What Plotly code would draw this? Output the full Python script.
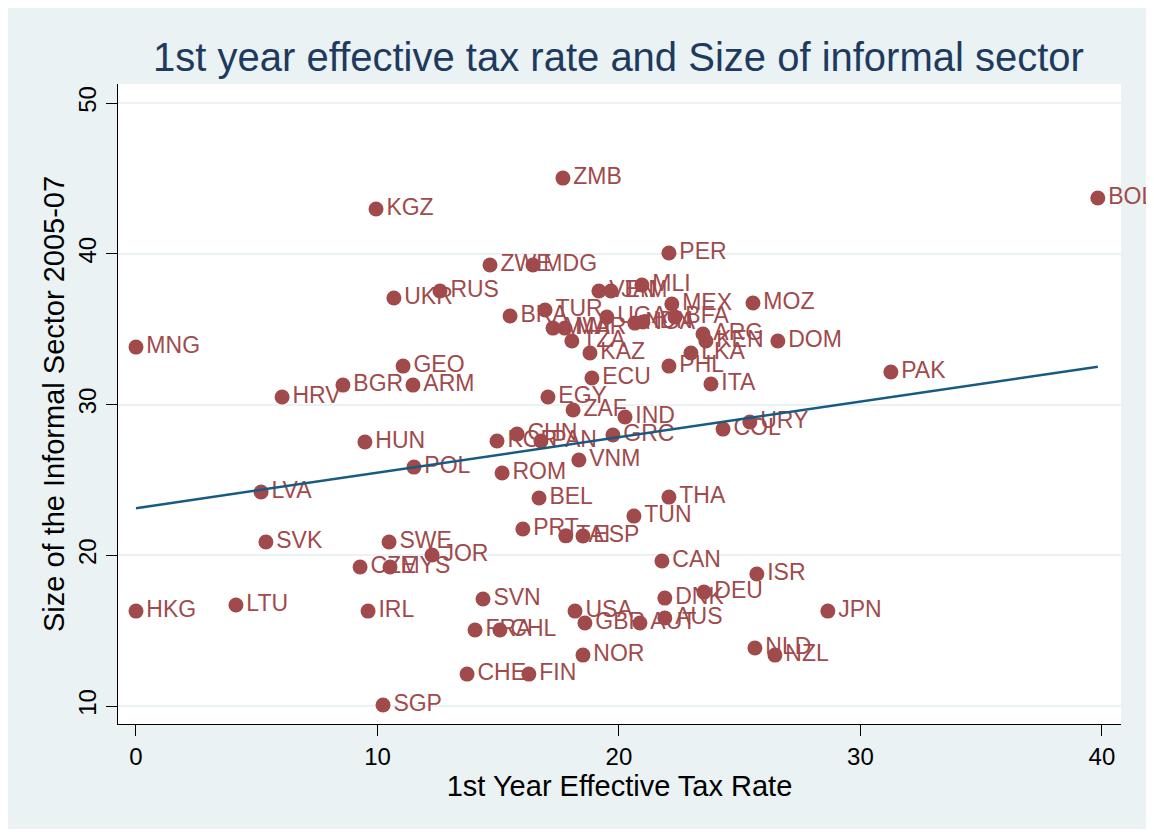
import numpy as np
import plotly.graph_objects as go

countries = ["BOL","ZMB","KGZ","PER","ZWE","MDG","RUS","UKR","MLI","VEN","JAM","MEX","MOZ","TUR","BRA",
             "UGA","NGA","IDN","BFA","MWI","MAR","TZA","KAZ","ARG","KEN","LKA","DOM","PHL","ECU","ITA",
             "PAK","MNG","GEO","BGR","ARM","HRV","EGY","ZAF","IND","URY","COL","CHN","KOR","PAN","GRC",
             "HUN","POL","ROM","VNM","LVA","BEL","THA","TUN","PRT","TAI","ESP","SVK","SWE","JOR","CZE",
             "MYS","CAN","ISR","DEU","DNK","SVN","LTU","HKG","IRL","USA","JPN","AUS","GBR","AUT","FRA",
             "CHL","NLD","NZL","NOR","CHE","FIN","SGP"]
tax_rate = [39.83,17.68,9.94,22.07,14.66,16.44,12.59,10.68,20.95,19.17,19.67,22.19,25.55,16.94,15.49,
            19.50,20.66,20.99,22.32,17.27,17.76,18.05,18.80,23.48,23.60,22.98,26.58,22.07,18.88,23.81,
            31.26,0.00,11.06,8.57,11.47,6.05,17.06,18.10,20.25,25.42,24.31,15.78,14.95,16.77,19.75,
            9.48,11.51,15.16,18.34,5.18,16.69,22.07,20.62,16.02,17.80,18.51,5.38,10.48,12.26,9.28,
            10.52,21.78,25.71,23.52,21.90,14.37,4.14,0.00,9.61,18.18,28.65,21.90,18.59,20.87,14.04,
            15.07,25.63,26.46,18.51,13.71,16.27,10.23]
informal = [43.70,45.02,42.97,40.05,39.25,39.25,37.53,37.07,37.93,37.53,37.53,36.67,36.73,36.27,35.87,
            35.80,35.40,35.47,35.80,35.07,35.07,34.21,33.42,34.68,34.21,33.42,34.21,32.55,31.76,31.36,
            32.16,33.81,32.55,31.29,31.29,30.50,30.50,29.64,29.17,28.84,28.37,28.04,27.58,27.58,27.98,
            27.51,25.85,25.46,26.32,24.20,23.80,23.86,22.60,21.74,21.29,21.28,20.88,20.88,20.02,19.22,
            19.22,19.62,18.76,17.56,17.16,17.10,16.70,16.30,16.30,16.30,16.30,15.84,15.51,15.51,15.04,
            15.04,13.85,13.38,13.38,12.12,12.12,10.07]

x_ticks = [0, 10, 20, 30, 40]
y_ticks = [10, 20, 30, 40, 50]

title_text = "1st year effective tax rate and Size of informal sector"
x_title = "1st Year Effective Tax Rate"
y_title = "Size of the Informal Sector 2005-07"

MAROON = "#A04A4C"
LINE = "#175B83"
BG = "#EAF2F3"
FONT = "Liberation Sans, Arial, sans-serif"

slope, intercept = np.polyfit(tax_rate, informal, 1)
xfit = np.array([min(tax_rate), max(tax_rate)])
yfit = intercept + slope * xfit

fig = go.Figure()
fig.add_trace(go.Scatter(
    x=tax_rate, y=informal, mode="markers+text", text=countries,
    textposition="middle right",
    textfont=dict(family=FONT, size=23, color=MAROON),
    marker=dict(color=MAROON, size=15, line=dict(width=0)),
    cliponaxis=False, showlegend=False, hoverinfo="skip"))
fig.add_trace(go.Scatter(
    x=xfit, y=yfit, mode="lines", line=dict(color=LINE, width=2.5),
    showlegend=False, hoverinfo="skip"))

fig.update_layout(
    width=1138, height=821,
    margin=dict(l=110, r=25, t=76, b=105),
    paper_bgcolor=BG, plot_bgcolor="white",
    font=dict(family=FONT, color="black"),
    title=dict(text=title_text, x=0.5365, xanchor="center", y=0.940, yanchor="middle",
               font=dict(family=FONT, size=40, color="#1E3A5F")),
)
fig.update_xaxes(
    range=[-0.745, 40.79], tickvals=x_ticks, ticks="outside", ticklen=11, tickwidth=1.2,
    tickcolor="black", showline=True, linecolor="black", linewidth=1.2, showgrid=False,
    zeroline=False, tickfont=dict(size=24, color="black"),
    title=dict(text=x_title, font=dict(size=29, color="black"), standoff=4))
fig.update_yaxes(
    range=[8.81, 51.26], tickvals=y_ticks, ticks="outside", ticklen=11, tickwidth=1.2,
    tickcolor="black", showline=True, linecolor="black", linewidth=1.2, showgrid=True,
    gridcolor=BG, gridwidth=2, zeroline=False, tickangle=-90,
    tickfont=dict(size=24, color="black"),
    title=dict(text=y_title, font=dict(size=29, color="black"), standoff=1))

fig.write_html("out.html")
